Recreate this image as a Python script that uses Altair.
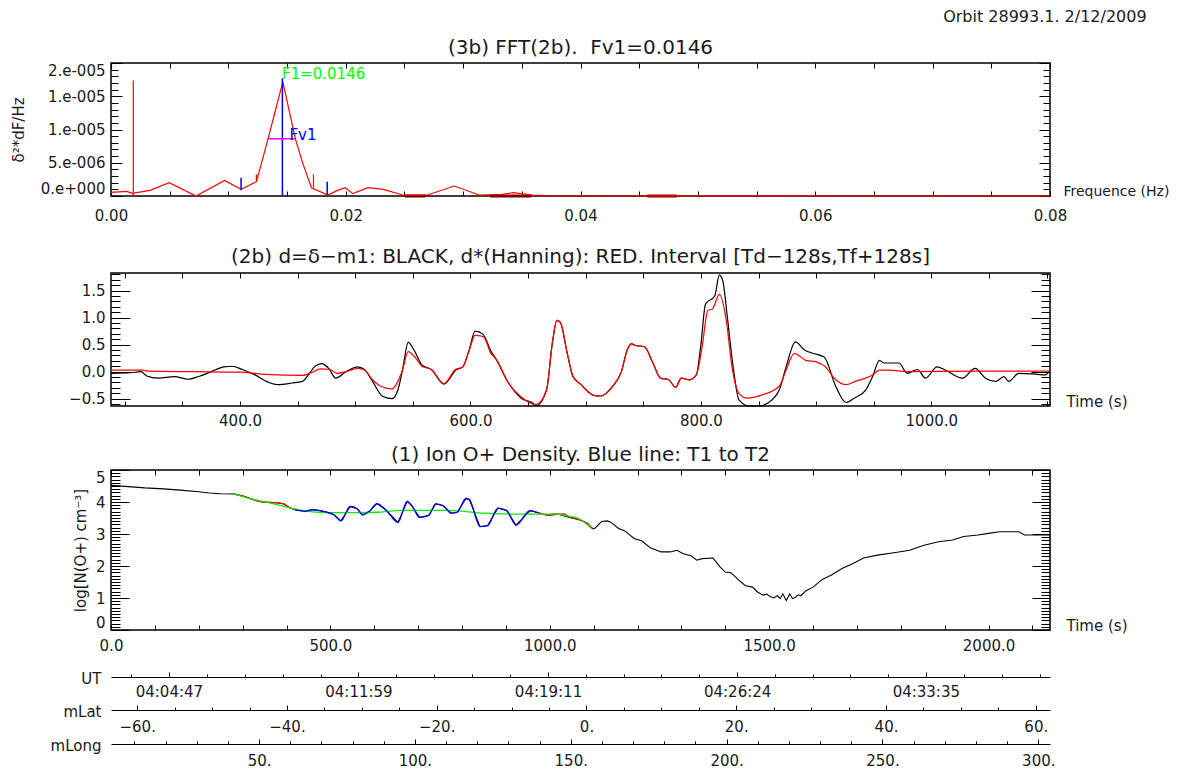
import json
import altair as alt
import pandas as pd

FONT = "DejaVu Sans"
INK = "#1a1a1a"

# ---------------- (3b) FFT(2b) spectrum ----------------
fft_freq = [0.0, 0.00137, 0.00179, 0.00333, 0.00496, 0.00724, 0.00968, 0.01108, 0.01239,
            0.01333, 0.01464, 0.01571, 0.01637, 0.01708, 0.01848, 0.0193, 0.01995, 0.0206,
            0.0219, 0.02321, 0.02484, 0.02696, 0.02924, 0.03136, 0.03332, 0.0343, 0.03593,
            0.037, 0.08]
fft_power = [0.55e-6, 0.7e-6, 0.4e-6, 0.85e-6, 2.0e-6, 0.0, 2.35e-6, 1.0e-6, 2.15e-6,
             8.25e-6, 1.715e-5, 8.6e-6, 4.75e-6, 1.25e-6, 0.15e-6, 0.85e-6, 1.25e-6, 0.35e-6,
             1.25e-6, 1.0e-6, 0.15e-6, 0.15e-6, 1.5e-6, 0.15e-6, 0.25e-6, 0.5e-6, 0.15e-6,
             0.05e-6, 0.0]
fft_red_rule_f = [0.0019, 0.01239, 0.01725]
fft_red_rule_lo = [0.0, 2.15e-6, 1.25e-6]
fft_red_rule_hi = [1.736e-5, 3.25e-6, 3.25e-6]
fft_blue_rule_f = [0.0146, 0.01108, 0.01842]
fft_blue_rule_lo = [0.0, 0.85e-6, 0.15e-6]
fft_blue_rule_hi = [1.77e-5, 2.75e-6, 2.15e-6]
fv1_from, fv1_to, fv1_level = [0.01333], [0.01571], [8.6e-6]
fft_dark_from = [0.0250, 0.0323, 0.0457]
fft_dark_to = [0.0268, 0.0358, 0.0482]
fft_dark_level = [0.0, 0.0, 0.0]
f1_note, f1_f, f1_p = ["F1=0.0146"], [0.01457], [1.83e-5]
fv1_note, fv1_f, fv1_p = ["Fv1"], [0.0152], [9.15e-6]

fft_x_labels = [0.0, 0.02, 0.04, 0.06, 0.08]
fft_x_ticks = [round(0.005 * i, 4) for i in range(17)]
fft_y_labels = [0.0, 5e-6, 1e-5, 1.5e-5, 2e-5]
fft_y_text = ["0.e+000", "5.e-006", "1.e-005", "1.e-005", "2.e-005"]
fft_y_ticks = [round(1e-6 * i, 12) for i in range(21)]

# ---------------- (2b) detrended signal ----------------
mid_black = [(288, -0.03), (305, -0.02), (314, 0.0), (319, -0.08), (329, -0.12), (343, -0.09),
             (355, -0.14), (364, -0.09), (375, 0.0), (386, 0.09), (393, 0.10), (402, 0.04),
             (413, -0.06), (425, -0.20), (433, -0.24), (445, -0.21), (454, -0.18), (460, -0.04),
             (465, 0.10), (471, 0.15), (477, 0.06), (483, -0.12), (492, 0.0), (502, 0.09),
             (508, 0.04), (515, -0.18), (524, -0.46), (532, -0.50), (537, -0.34), (541, 0.03),
             (546, 0.54), (551, 0.40), (558, 0.12), (566, 0.04), (577, -0.23), (588, 0.04),
             (593, 0.08), (599, 0.41), (604, 0.75), (611, 0.69), (618, 0.37), (622, 0.24),
             (633, -0.21), (644, -0.49), (654, -0.58), (657, -0.63), (666, -0.34), (671, 0.52),
             (675, 0.95), (678, 0.91), (684, 0.34), (689, -0.09), (696, -0.24), (702, -0.37),
             (707, -0.44), (713, -0.45), (723, -0.28), (731, 0.0), (736, 0.40), (740, 0.52),
             (742, 0.49), (751, 0.46), (758, 0.18), (765, -0.12), (772, -0.15), (778, -0.29),
             (783, -0.12), (790, -0.15), (796, -0.06), (800, 0.50), (804, 1.25), (812, 1.40),
             (816, 1.79), (819, 1.68), (823, 1.0), (828, 0.09), (833, -0.52), (842, -0.635),
             (851, -0.635), (858, -0.58), (868, -0.34), (874, 0.09), (882, 0.55), (890, 0.40),
             (897, 0.34), (907, 0.27), (917, -0.27), (926, -0.57), (933, -0.49), (943, -0.34),
             (949, -0.09), (955, 0.21), (959, 0.16), (972, 0.16), (979, -0.03), (988, 0.04),
             (995, -0.12), (1005, 0.09), (1012, 0.03), (1027, -0.12), (1038, 0.06), (1047, -0.12),
             (1056, -0.18), (1063, -0.09), (1067, -0.18), (1076, -0.03), (1088, -0.04),
             (1099, -0.06), (1102, 0.0)]
mid_red = [(288, 0.03), (300, 0.03), (316, 0.03), (320, 0.01), (360, 0.0), (400, -0.01),
           (422, -0.05), (454, -0.07), (462, -0.02), (470, 0.05), (478, 0.04), (484, -0.03),
           (492, 0.0), (502, 0.06), (508, 0.03), (515, -0.15), (523, -0.28), (532, -0.32),
           (537, -0.18), (541, 0.03), (546, 0.37), (551, 0.29), (558, 0.10), (566, 0.04),
           (577, -0.22), (587, 0.04), (593, 0.08), (599, 0.40), (604, 0.67), (611, 0.65),
           (618, 0.33), (622, 0.24), (633, -0.21), (644, -0.47), (657, -0.61), (666, -0.34),
           (671, 0.52), (675, 0.95), (678, 0.91), (684, 0.34), (689, -0.09), (696, -0.24),
           (702, -0.37), (707, -0.44), (713, -0.45), (723, -0.28), (731, 0.0), (736, 0.40),
           (740, 0.52), (742, 0.49), (751, 0.46), (758, 0.18), (765, -0.12), (772, -0.15),
           (778, -0.29), (783, -0.12), (790, -0.15), (796, -0.06), (801, 0.45), (806, 1.13),
           (810, 1.16), (816, 1.43), (822, 0.95), (827, 0.09), (833, -0.40), (840, -0.49),
           (853, -0.43), (868, -0.27), (874, 0.03), (881, 0.34), (891, 0.21), (900, 0.18),
           (908, 0.09), (917, -0.15), (926, -0.24), (934, -0.18), (949, -0.06), (955, 0.03),
           (963, 0.03), (980, 0.0), (1040, 0.01), (1102, 0.01)]
mid_x_labels = [400, 600, 800, 1000]
mid_x_ticks = list(range(300, 1101, 50))
mid_y_labels = [-0.5, 0.0, 0.5, 1.0, 1.5]
mid_y_ticks = [round(-0.6 + 0.1 * i, 1) for i in range(25)]

# ---------------- (1) Ion O+ density ----------------
bot_black = [(0, 4.52), (40, 4.48), (77, 4.44), (120, 4.41), (158, 4.37), (200, 4.32), (224, 4.28),
             (250, 4.26), (280, 4.25), (297, 4.20), (313, 4.13), (329, 4.05), (345, 4.0),
             (362, 3.99), (382, 3.97), (394, 3.94), (406, 3.83), (419, 3.76), (443, 3.71),
             (459, 3.76), (484, 3.71), (508, 3.60), (524, 3.41), (545, 3.86), (561, 3.79),
             (573, 3.60), (589, 3.71), (606, 3.95), (626, 3.76), (654, 3.36), (675, 4.02),
             (687, 3.86), (703, 3.52), (724, 3.58), (740, 3.94), (756, 3.89), (776, 3.65),
             (789, 3.68), (809, 4.11), (817, 4.07), (841, 3.23), (858, 3.26), (882, 3.81),
             (902, 3.73), (923, 3.28), (955, 3.73), (972, 3.67), (996, 3.58), (1020, 3.62),
             (1045, 3.52), (1069, 3.44), (1085, 3.34), (1098, 3.16), (1103, 3.18), (1118, 3.39),
             (1131, 3.41), (1139, 3.37), (1156, 3.18), (1172, 3.09), (1192, 2.86), (1209, 2.79),
             (1229, 2.57), (1254, 2.44), (1274, 2.44), (1290, 2.49), (1303, 2.39), (1323, 2.31),
             (1335, 2.18), (1347, 2.23), (1372, 2.25), (1388, 1.97), (1400, 1.81), (1413, 1.79),
             (1429, 1.58), (1445, 1.39), (1462, 1.34), (1474, 1.18), (1486, 1.09), (1494, 1.12),
             (1502, 1.05), (1510, 1.0), (1519, 1.07), (1525, 0.98), (1531, 1.13), (1539, 0.92),
             (1547, 1.13), (1553, 0.98), (1560, 1.02), (1566, 1.10), (1572, 1.07), (1584, 1.23),
             (1600, 1.34), (1621, 1.58), (1641, 1.71), (1666, 1.92), (1690, 2.07), (1715, 2.25),
             (1747, 2.34), (1788, 2.42), (1820, 2.49), (1853, 2.65), (1886, 2.76), (1918, 2.81),
             (1943, 2.92), (1976, 2.97), (2000, 3.02), (2024, 3.07), (2069, 3.07), (2082, 2.97),
             (2114, 2.97), (2140, 2.97)]
bot_red_a = [(280, 4.25), (297, 4.20), (313, 4.13), (329, 4.05), (345, 4.0), (362, 3.99),
             (382, 3.97), (394, 3.94), (406, 3.83), (419, 3.76)]
bot_red_b = [(972, 3.67), (984, 3.62), (996, 3.58), (1008, 3.63), (1020, 3.62), (1033, 3.63),
             (1045, 3.52), (1057, 3.50), (1069, 3.44), (1085, 3.34), (1098, 3.16)]
bot_green = [(280, 4.25), (329, 4.07), (362, 3.97), (419, 3.78), (492, 3.67), (565, 3.67),
             (606, 3.68), (663, 3.74), (768, 3.74), (850, 3.65), (931, 3.62), (1012, 3.62),
             (1045, 3.55), (1069, 3.46), (1093, 3.20)]
bot_blue = [(419, 3.76), (443, 3.71), (459, 3.76), (484, 3.71), (508, 3.60), (524, 3.41),
            (545, 3.86), (561, 3.79), (573, 3.60), (589, 3.71), (606, 3.95), (626, 3.76),
            (654, 3.36), (675, 4.02), (687, 3.86), (703, 3.52), (724, 3.58), (740, 3.94),
            (756, 3.89), (776, 3.65), (789, 3.68), (809, 4.11), (817, 4.07), (841, 3.23),
            (858, 3.26), (882, 3.81), (902, 3.73), (923, 3.28), (955, 3.73), (972, 3.67)]
bot_x_labels = [0, 500, 1000, 1500, 2000]
bot_x_ticks = list(range(0, 2101, 100))
bot_y_labels = [0, 1, 2, 3, 4, 5]
bot_y_ticks = [round(0.1 * i, 1) for i in range(51)]

# ---------------- UT / mLat / mLong scales ----------------
ut_ticks = [132, 564, 996, 1427, 1857]
ut_text = ["04:04:47", "04:11:59", "04:19:11", "04:26:24", "04:33:35"]
mlat_ticks = [-60, -40, -20, 0, 20, 40, 60]
mlong_ticks = [50, 100, 150, 200, 250, 300]

# ---------------- layout ----------------
W = 939
H_FFT, H_MID, H_BOT, H_STRIP = 133, 133, 160, 67
GAP1, GAP2, GAP3 = 77, 64, 47
MLAT_POS = 33
FFT_X, FFT_Y = [0.0, 0.08], [0.0, 2e-5]
MID_X, MID_Y = [288, 1103], [-0.635, 1.825]
BOT_X, BOT_Y = [0, 2140], [0.0, 5.0]
UT_X, MLAT_X, MLONG_X = [0, 2140], [-63.5, 61.9], [2.5, 303.75]
LBL = 15


def sc(dom):
    return alt.Scale(domain=dom, nice=False, zero=False)


def pts(pairs, a="x", b="y"):
    return pd.DataFrame({a: [p[0] for p in pairs], b: [p[1] for p in pairs]})


def tsize(test, big, small):
    if test is None:
        return big
    return {"condition": {"test": test, "value": big}, "value": small}


def tick_axis(orient, offset, values, size):
    return alt.Axis(orient=orient, offset=offset, values=values, labels=False, grid=False,
                    domain=False, ticks=True, tickColor="black", tickWidth=1, tickSize=size,
                    title=None)


def frame_layers(df, xf, yf, xdom, ydom, w, h, xt, xsize, yt, ysize):
    layers = []
    for orient in ("top", "bottom"):
        layers.append(alt.Chart(df).mark_point(opacity=0).encode(
            x=alt.X(f"{xf}:Q", scale=sc(xdom), axis=tick_axis(orient, -h, xt, xsize)),
            y=alt.Y(f"{yf}:Q", scale=sc(ydom), axis=None)))
    for orient in ("right", "left"):
        layers.append(alt.Chart(df).mark_point(opacity=0).encode(
            x=alt.X(f"{xf}:Q", scale=sc(xdom), axis=None),
            y=alt.Y(f"{yf}:Q", scale=sc(ydom), axis=tick_axis(orient, -w, yt, ysize))))
    return layers


def xlab_axis(values, fmt, title, pad=8, tx=16, tsz=15):
    return alt.Axis(orient="bottom", values=values, format=fmt, ticks=False, tickSize=0,
                    domain=False, grid=False, labelPadding=pad, labelFlush=False,
                    labelOverlap=False, labelFontSize=LBL, title=title, titleX=W + tx, titleY=-5,
                    titleAlign="left", titleBaseline="middle", titleAngle=0, titleFontSize=tsz,
                    titleFontWeight="normal")


def ylab_axis(values, title=None, fmt=None, expr=None, tpad=10, tsz=15, flush=False):
    kw = dict(orient="left", values=values, ticks=False, tickSize=0, domain=False, grid=False,
              labelPadding=6, labelOverlap=False, labelFontSize=LBL, labelFlush=flush)
    if fmt:
        kw["format"] = fmt
    if expr:
        kw["labelExpr"] = expr
    if title:
        kw.update(title=title, titlePadding=tpad, titleFontSize=tsz, titleFontWeight="normal")
    else:
        kw["title"] = None
    return alt.Axis(**kw)


def ptitle(text, offset=5):
    return alt.TitleParams(text, fontSize=20, fontWeight="normal", font=FONT, anchor="middle",
                           frame="group", offset=offset, color=INK)


# ---- FFT panel ----
fft_df = pd.DataFrame({"f": fft_freq, "p": fft_power})
fft_expr = f"{json.dumps(fft_y_text)}[indexof({json.dumps(fft_y_labels)}, datum.value)]"
fft_line = alt.Chart(fft_df).mark_line(color="#ff0000", strokeWidth=1.2).encode(
    x=alt.X("f:Q", scale=sc(FFT_X),
            axis=xlab_axis(fft_x_labels, ".2f", "Frequence (Hz)", pad=12, tx=13, tsz=14)),
    y=alt.Y("p:Q", scale=sc(FFT_Y),
            axis=ylab_axis(fft_y_labels, "δ²*dF/Hz", expr=fft_expr, tpad=14, flush=True)))
red_rules = alt.Chart(pd.DataFrame({"f": fft_red_rule_f, "lo": fft_red_rule_lo, "hi": fft_red_rule_hi})
                      ).mark_rule(color="#ff0000", strokeWidth=1.2).encode(
    x=alt.X("f:Q", scale=sc(FFT_X), axis=None), y=alt.Y("lo:Q", scale=sc(FFT_Y), axis=None), y2="hi:Q")
blue_rules = alt.Chart(pd.DataFrame({"f": fft_blue_rule_f, "lo": fft_blue_rule_lo, "hi": fft_blue_rule_hi})
                       ).mark_rule(color="#0000ff", strokeWidth=1.5).encode(
    x=alt.X("f:Q", scale=sc(FFT_X), axis=None), y=alt.Y("lo:Q", scale=sc(FFT_Y), axis=None), y2="hi:Q")
fv1_rule = alt.Chart(pd.DataFrame({"a": fv1_from, "b": fv1_to, "p": fv1_level})
                     ).mark_rule(color="#ff00ff", strokeWidth=1.5).encode(
    x=alt.X("a:Q", scale=sc(FFT_X), axis=None), x2="b:Q", y=alt.Y("p:Q", scale=sc(FFT_Y), axis=None))
dark = alt.Chart(pd.DataFrame({"a": fft_dark_from, "b": fft_dark_to, "p": fft_dark_level})
                 ).mark_rule(color="#7a0000", strokeWidth=3).encode(
    x=alt.X("a:Q", scale=sc(FFT_X), axis=None), x2="b:Q", y=alt.Y("p:Q", scale=sc(FFT_Y), axis=None))
f1_txt = alt.Chart(pd.DataFrame({"f": f1_f, "p": f1_p, "t": f1_note})).mark_text(
    color="#00ff00", align="left", baseline="middle", fontSize=15, font=FONT).encode(
    x=alt.X("f:Q", scale=sc(FFT_X), axis=None), y=alt.Y("p:Q", scale=sc(FFT_Y), axis=None), text="t:N")
fv1_txt = alt.Chart(pd.DataFrame({"f": fv1_f, "p": fv1_p, "t": fv1_note})).mark_text(
    color="#0000ff", align="left", baseline="middle", fontSize=15, font=FONT).encode(
    x=alt.X("f:Q", scale=sc(FFT_X), axis=None), y=alt.Y("p:Q", scale=sc(FFT_Y), axis=None), text="t:N")
fft_frame = frame_layers(fft_df, "f", "p", FFT_X, FFT_Y, W, H_FFT, fft_x_ticks, 5,
                         fft_y_ticks, tsize("abs(datum.value*2e5 - round(datum.value*2e5)) < 1e-4", 11, 7))
fft_panel = alt.layer(dark, fft_line, red_rules, blue_rules, fv1_rule, f1_txt, fv1_txt, *fft_frame
                      ).resolve_scale(x="independent", y="independent").properties(
    width=W, height=H_FFT, title=ptitle("(3b) FFT(2b).\u00a0 Fv1=0.0146"))

# ---- middle panel ----
mb_df = pts(mid_black, "t", "d")
mr_df = pts(mid_red, "t", "d")
mid_black_line = alt.Chart(mb_df).mark_line(color="black", strokeWidth=1.2, interpolate="monotone").encode(
    x=alt.X("t:Q", scale=sc(MID_X), axis=xlab_axis(mid_x_labels, ".1f", "Time (s)", pad=7)),
    y=alt.Y("d:Q", scale=sc(MID_Y), axis=ylab_axis(mid_y_labels, fmt=".1f")))
mid_red_line = alt.Chart(mr_df).mark_line(color="#ff0000", strokeWidth=1.2, interpolate="monotone").encode(
    x=alt.X("t:Q", scale=sc(MID_X), axis=None), y=alt.Y("d:Q", scale=sc(MID_Y), axis=None))
mid_frame = frame_layers(mb_df, "t", "d", MID_X, MID_Y, W, H_MID, mid_x_ticks, 5,
                         mid_y_ticks, tsize("abs(datum.value*2 - round(datum.value*2)) < 1e-6", 19, 9))
mid_panel = alt.layer(mid_black_line, mid_red_line, *mid_frame).resolve_scale(
    x="independent", y="independent").properties(
    width=W, height=H_MID,
    title=ptitle("(2b) d=δ−m1: BLACK, d*(Hanning): RED. Interval [Td−128s,Tf+128s]"))

# ---- bottom panel ----
bb_df = pts(bot_black, "t", "n")
ra = pts(bot_red_a, "t", "n")
ra["seg"] = "a"
rb = pts(bot_red_b, "t", "n")
rb["seg"] = "b"
br_df = pd.concat([ra, rb], ignore_index=True)
bg_df = pts(bot_green, "t", "n")
bl_df = pts(bot_blue, "t", "n")
bot_black_line = alt.Chart(bb_df).mark_line(color="black", strokeWidth=1.1).encode(
    x=alt.X("t:Q", scale=sc(BOT_X), axis=xlab_axis(bot_x_labels, ".1f", "Time (s)", pad=8)),
    y=alt.Y("n:Q", scale=sc(BOT_Y),
            axis=ylab_axis(bot_y_labels, "log[N(O+) cm⁻³]", fmt="d", tpad=7, flush=True)))
bot_red_line = alt.Chart(br_df).mark_line(color="#ff0000", strokeWidth=1.3).encode(
    x=alt.X("t:Q", scale=sc(BOT_X), axis=None), y=alt.Y("n:Q", scale=sc(BOT_Y), axis=None), detail="seg:N")
bot_green_line = alt.Chart(bg_df).mark_line(color="#00ee00", strokeWidth=1.3, interpolate="monotone").encode(
    x=alt.X("t:Q", scale=sc(BOT_X), axis=None), y=alt.Y("n:Q", scale=sc(BOT_Y), axis=None))
bot_blue_line = alt.Chart(bl_df).mark_line(color="#0000ff", strokeWidth=1.3, interpolate="monotone").encode(
    x=alt.X("t:Q", scale=sc(BOT_X), axis=None), y=alt.Y("n:Q", scale=sc(BOT_Y), axis=None))
bot_frame = frame_layers(bb_df, "t", "n", BOT_X, BOT_Y, W, H_BOT, bot_x_ticks, 5,
                         bot_y_ticks, tsize("abs(datum.value - round(datum.value)) < 1e-6", 18, 9))
bot_panel = alt.layer(bot_black_line, bot_red_line, bot_green_line, bot_blue_line, *bot_frame
                      ).resolve_scale(x="independent", y="independent").properties(
    width=W, height=H_BOT, title=ptitle("(1) Ion O+ Density. Blue line: T1 to T2"))


# ---- UT / mLat / mLong strip ----
def strip_layers(name, dom, major, minor, expr, pos, pad):
    df = pd.DataFrame({"v": major, "z": [0.5] * len(major)})
    test = f"indexof({json.dumps(major)}, datum.value) >= 0"
    yenc = alt.Y("z:Q", scale=sc([0, 1]), axis=None)
    ticks = alt.Chart(df).mark_point(opacity=0).encode(
        x=alt.X("v:Q", scale=sc(dom), axis=alt.Axis(
            orient="top", offset=-pos, values=minor, labels=False, grid=False, domain=True,
            domainColor="black", domainWidth=1.2, ticks=True, tickColor="black", tickWidth=1,
            tickSize=tsize(test, 5, 3), title=name, titleX=-10, titleY=1, titleAlign="right",
            titleBaseline="middle", titleAngle=0, titleFontSize=15, titleFontWeight="normal")),
        y=yenc)
    labels = alt.Chart(df).mark_point(opacity=0).encode(
        x=alt.X("v:Q", scale=sc(dom), axis=alt.Axis(
            orient="bottom", offset=-(H_STRIP - pos), values=major, labelExpr=expr, ticks=False,
            tickSize=0, domain=False, grid=False, labelPadding=pad, labelFlush=False,
            labelOverlap=False, labelFontSize=LBL, title=None)),
        y=yenc)
    return [ticks, labels]


ut_minor = []
for i in range(len(ut_ticks) - 1):
    a, b = ut_ticks[i], ut_ticks[i + 1]
    ut_minor += [round(a + (b - a) * k / 5, 2) for k in range(5)]
ut_minor = [round(ut_ticks[0] - 86.4, 2)] + ut_minor + [ut_ticks[-1]] + \
           [round(ut_ticks[-1] + 86.4 * k, 2) for k in (1, 2, 3)]
ut_expr = f"{json.dumps(ut_text)}[indexof({json.dumps(ut_ticks)}, datum.value)]"
mlat_minor = list(range(-60, 61, 5))
mlong_minor = list(range(10, 301, 10))
num_expr = "format(datum.value, 'd') + '.'"

strip_all = (strip_layers("UT", UT_X, ut_ticks, ut_minor, ut_expr, 0, 7)
             + strip_layers("mLat", MLAT_X, mlat_ticks, mlat_minor, num_expr, MLAT_POS, 9)
             + strip_layers("mLong", MLONG_X, mlong_ticks, mlong_minor, num_expr, H_STRIP, 9))
strips = alt.layer(*strip_all).resolve_scale(x="independent", y="independent").properties(
    width=W, height=H_STRIP, view=alt.ViewBackground(stroke="transparent"))


def spacer(h):
    return alt.Chart(pd.DataFrame({"s": [0]})).mark_point(opacity=0).encode(
        x=alt.X("s:Q", axis=None), y=alt.Y("s:Q", axis=None)).properties(
        width=W, height=h, view=alt.ViewBackground(stroke="transparent"))


chart = alt.vconcat(fft_panel, spacer(GAP1), mid_panel, spacer(GAP2), bot_panel, spacer(GAP3), strips,
                    spacing=0, bounds="flush").properties(
    title=alt.TitleParams("Orbit 28993.1. 2/12/2009", anchor="end", frame="bounds", fontSize=16,
                          fontWeight="normal", font=FONT, offset=12, dx=-23, color=INK),
    padding={"left": 2, "top": 0, "right": 2, "bottom": 0},
).configure_view(stroke="black", strokeWidth=1.5).configure_axis(
    labelFont=FONT, titleFont=FONT, labelColor=INK, titleColor=INK).configure_title(font=FONT)

chart.save("out.html", embed_options={"renderer": "svg", "actions": False})
